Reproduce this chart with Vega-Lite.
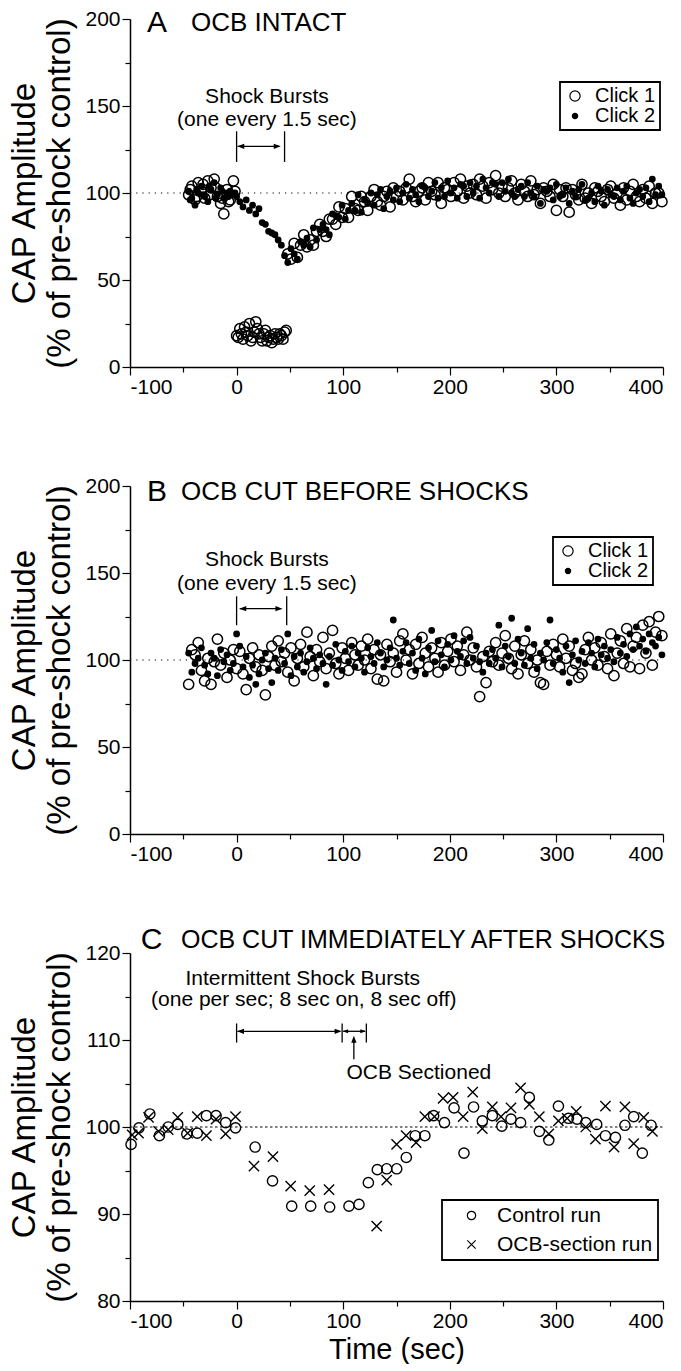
{
"$schema":"https://vega.github.io/schema/vega-lite/v6.json",
"padding":{"left":8,"top":8,"right":0,"bottom":0},
"spacing":119,
"bounds":"flush",
"resolve":{"scale":{"x":"independent","y":"independent","shape":"independent","fill":"independent","stroke":"independent","size":"independent"},"legend":{"shape":"independent","fill":"independent","stroke":"independent","size":"independent"},"axis":{"x":"independent","y":"independent"}},
"config":{"font":"Liberation Sans","view":{"stroke":null},
"axis":{"grid":false,"domainColor":"black","domainWidth":1.5,"tickColor":"black","tickWidth":1.2,"labelColor":"black","labelFontSize":21,"labelFont":"Liberation Sans","titleColor":"black","titleFont":"Liberation Sans","titleFontWeight":"normal"},
"legend":{"labelFont":"Liberation Sans","labelFontSize":20,"labelColor":"black","strokeColor":"black","strokeWidth":1.8,"padding":4,"rowPadding":0,"symbolStrokeWidth":1.2},
"text":{"color":"black","font":"Liberation Sans"}},
"vconcat":[
{"width":533,"height":348,
"encoding":{
"x":{"field":"t","type":"quantitative","scale":{"domain":[-100,400],"nice":false,"zero":false},"axis":{"values":[-100,-50,0,50,100,150,200,250,300,350,400],"labelExpr":"datum.value % 100 === 0 ? '' + datum.value : ''","tickSize":{"condition":{"test":"datum.value % 100 === 0","value":8},"value":5},"labelPadding":1,"title":null}},
"y":{"field":"v","type":"quantitative","scale":{"domain":[0,200],"nice":false,"zero":false},"axis":{"values":[0,25,50,75,100,125,150,175,200],"labelExpr":"datum.value % 50 === 0 ? '' + datum.value : ''","tickSize":{"condition":{"test":"datum.value % 50 === 0","value":8},"value":5},"labelPadding":2,"title":["CAP Amplitude","(% of pre-shock control)"],"titleFontSize":33,"titleLineHeight":35,"titlePadding":8}}},
"layer":[
{"data":{"values":[{"t":-100,"t2":400,"v":100}]},"mark":{"type":"rule","color":"black","strokeDash":[1.2,5],"strokeWidth":1.2},"encoding":{"x2":{"field":"t2"}}},
{"data":{"values":[
{"t":-45,"a":99,"b":101},{"t":-42,"a":104,"b":97},{"t":-39,"a":96,"b":93},{"t":-36,"a":106,"b":100},{"t":-33,"a":101,"b":104},{"t":-30,"a":97,"b":98},{"t":-27,"a":107,"b":95},{"t":-24,"a":103,"b":102},{"t":-21,"a":108,"b":106},{"t":-18,"a":98,"b":99},{"t":-15,"a":94,"b":103},{"t":-12,"a":88,"b":97},{"t":-9,"a":102,"b":100},{"t":-6,"a":96,"b":101},{"t":-3,"a":107,"b":99},
{"t":-43.5,"a":102,"b":96},{"t":-37.5,"a":98,"b":102},{"t":-31.5,"a":105,"b":99},{"t":-25.5,"a":99,"b":104},{"t":-19.5,"a":103,"b":97},{"t":-13.5,"a":97,"b":101},{"t":-7.5,"a":95,"b":98},{"t":-1.5,"a":101,"b":100},
{"t":0,"a":18,"b":98},{"t":1.5,"a":17},{"t":3,"a":22,"b":95},{"t":4.5,"a":19},{"t":6,"a":16,"b":92},{"t":7.5,"a":23},{"t":9,"a":20,"b":96},{"t":10.5,"a":18},{"t":12,"a":25,"b":90},{"t":13.5,"a":15},{"t":15,"a":17,"b":93},{"t":16.5,"a":20},{"t":18,"a":26,"b":88},{"t":19.5,"a":22},{"t":21,"a":19,"b":91},{"t":22.5,"a":17},{"t":24,"a":15,"b":83},{"t":25.5,"a":19},{"t":27,"a":21,"b":82},{"t":28.5,"a":15},{"t":30,"a":17,"b":78},{"t":31.5,"a":18},{"t":33,"a":14,"b":77},{"t":34.5,"a":16},{"t":36,"a":19,"b":76},{"t":37.5,"a":17},{"t":39,"a":16,"b":73},{"t":40.5,"a":19},{"t":42,"a":18,"b":70},{"t":43.5,"a":16},{"t":45,"a":20,"b":64},{"t":46.5,"a":21},
{"t":48,"a":65,"b":60},{"t":51,"a":62,"b":68},{"t":54,"a":71,"b":65},{"t":57,"a":63,"b":62},{"t":60,"a":70,"b":72},{"t":63,"a":76,"b":70},{"t":66,"a":69,"b":74},{"t":69,"a":73,"b":69},{"t":72,"a":70,"b":80},{"t":75,"a":78,"b":73},{"t":78,"a":82,"b":79},{"t":81,"a":78,"b":82},{"t":84,"a":75,"b":79},{"t":87,"a":85,"b":76},{"t":90,"a":85,"b":88},{"t":93,"a":82,"b":87},{"t":96,"a":92,"b":86},{"t":99,"a":86,"b":93},{"t":102,"a":91,"b":85},{"t":105,"a":86,"b":90},{"t":108,"a":98,"b":94},{"t":111,"a":91,"b":90},{"t":114,"a":90,"b":99},{"t":117,"a":98,"b":89},{"t":120,"a":95,"b":96},{"t":123,"a":90,"b":94},{"t":126,"a":98,"b":100},{"t":129,"a":102,"b":93},{"t":132,"a":95,"b":99},{"t":135,"a":93,"b":102},{"t":138,"a":98,"b":91},{"t":141,"a":101,"b":98},{"t":144,"a":92,"b":101},{"t":147,"a":103,"b":96},{"t":150,"a":98,"b":103},{"t":153,"a":101,"b":95},{"t":156,"a":96,"b":100},{"t":159,"a":103,"b":105},{"t":162,"a":108,"b":97},{"t":165,"a":98,"b":102},{"t":168,"a":95,"b":99},{"t":171,"a":101,"b":95},{"t":174,"a":103,"b":104},{"t":177,"a":96,"b":103},{"t":180,"a":106,"b":98},{"t":183,"a":101,"b":101},{"t":186,"a":99,"b":106},{"t":189,"a":106,"b":97},{"t":192,"a":94,"b":103},{"t":195,"a":103,"b":98},{"t":198,"a":102,"b":107},{"t":201,"a":98,"b":100},{"t":204,"a":106,"b":103},{"t":207,"a":101,"b":97},{"t":210,"a":108,"b":105},{"t":213,"a":97,"b":104},{"t":216,"a":104,"b":98},{"t":219,"a":100,"b":106},{"t":222,"a":105,"b":100},{"t":225,"a":99,"b":104},{"t":228,"a":108,"b":97},{"t":231,"a":104,"b":108},{"t":234,"a":97,"b":103},{"t":237,"a":106,"b":100},{"t":240,"a":102,"b":106},{"t":243,"a":110,"b":105},{"t":246,"a":100,"b":98},{"t":249,"a":104,"b":106},{"t":252,"a":98,"b":101},{"t":255,"a":103,"b":108},{"t":258,"a":107,"b":100},{"t":261,"a":100,"b":98},{"t":264,"a":96,"b":102},{"t":267,"a":105,"b":104},{"t":270,"a":101,"b":98},{"t":273,"a":98,"b":106},{"t":276,"a":107,"b":100},{"t":279,"a":99,"b":98},{"t":282,"a":102,"b":104},{"t":285,"a":94,"b":94},{"t":288,"a":103,"b":102},{"t":291,"a":101,"b":101},{"t":294,"a":98,"b":103},{"t":297,"a":105,"b":96},{"t":300,"a":90,"b":105},{"t":303,"a":102,"b":98},{"t":306,"a":98,"b":99},{"t":309,"a":103,"b":103},{"t":312,"a":89,"b":94},{"t":315,"a":102,"b":101},{"t":318,"a":99,"b":98},{"t":321,"a":96,"b":102},{"t":324,"a":105,"b":105},{"t":327,"a":97,"b":96},{"t":330,"a":100,"b":97},{"t":333,"a":94,"b":100},{"t":336,"a":103,"b":95},{"t":339,"a":101,"b":104},{"t":342,"a":98,"b":101},{"t":345,"a":95,"b":93},{"t":348,"a":102,"b":102},{"t":351,"a":104,"b":99},{"t":354,"a":97,"b":98},{"t":357,"a":100,"b":103},{"t":360,"a":93,"b":96},{"t":363,"a":103,"b":101},{"t":366,"a":96,"b":104},{"t":369,"a":101,"b":97},{"t":372,"a":105,"b":94},{"t":375,"a":98,"b":100},{"t":378,"a":95,"b":102},{"t":381,"a":102,"b":98},{"t":384,"a":97,"b":103},{"t":387,"a":104,"b":95},{"t":390,"a":94,"b":108},{"t":393,"a":100,"b":99},{"t":396,"a":100,"b":104},{"t":399,"a":95,"b":99}
]},
"transform":[{"fold":["a","b"],"as":["k","v"]}],
"mark":{"type":"point","filled":true,"opacity":1,"strokeWidth":1.5},
"encoding":{
"shape":{"field":"k","type":"nominal","scale":{"domain":["a","b"],"range":["circle","circle"]},"legend":{"title":null,"orient":"none","legendX":430,"legendY":63,"labelExpr":"datum.value === 'a' ? 'Click 1  ' : 'Click 2  '","symbolOffset":1,"labelOffset":10}},
"fill":{"field":"k","type":"nominal","scale":{"domain":["a","b"],"range":["transparent","black"]},"legend":{"title":null}},
"stroke":{"field":"k","type":"nominal","scale":{"domain":["a","b"],"range":["black","black"]},"legend":{"title":null}},
"size":{"field":"k","type":"ordinal","scale":{"domain":["a","b"],"range":[105,28]},"legend":{"title":null}}}},
{"data":{"values":[{"t":0,"t2":0,"v":117.8,"v2":135.5},{"t":45,"t2":45,"v":117.8,"v2":135.5},{"t":1,"t2":40,"v":126.8,"v2":126.8}]},"mark":{"type":"rule","color":"black","strokeWidth":1.3},"encoding":{"x2":{"field":"t2"},"y2":{"field":"v2"}}},
{"data":{"values":[{"t":0.6,"v":126.8,"a":180},{"t":41.4,"v":126.8,"a":0}]},"mark":{"type":"point","shape":"M0,0L-2,-0.75L-2,0.75Z","filled":true,"color":"black","opacity":1,"size":49,"strokeWidth":0},"encoding":{"angle":{"field":"a","type":"quantitative","scale":null}}},
{"data":{"values":[{"t":-84,"v":197.7,"txt":"A","fs":30},{"t":-42.8,"v":197.7,"txt":"OCB INTACT","fs":26}]},"mark":{"type":"text","align":"left","baseline":"middle","color":"black"},"encoding":{"text":{"field":"txt"},"size":{"field":"fs","type":"quantitative","scale":null}}},
{"data":{"values":[{"t":28.5,"v":155.2,"txt":"Shock Bursts"},{"t":28.5,"v":142.1,"txt":"(one every 1.5 sec)"}]},"mark":{"type":"text","align":"center","baseline":"middle","color":"black","fontSize":21},"encoding":{"text":{"field":"txt"}}}
]},
{"width":533,"height":348,
"encoding":{
"x":{"field":"t","type":"quantitative","scale":{"domain":[-100,400],"nice":false,"zero":false},"axis":{"values":[-100,-50,0,50,100,150,200,250,300,350,400],"labelExpr":"datum.value % 100 === 0 ? '' + datum.value : ''","tickSize":{"condition":{"test":"datum.value % 100 === 0","value":8},"value":5},"labelPadding":1,"title":null}},
"y":{"field":"v","type":"quantitative","scale":{"domain":[0,200],"nice":false,"zero":false},"axis":{"values":[0,25,50,75,100,125,150,175,200],"labelExpr":"datum.value % 50 === 0 ? '' + datum.value : ''","tickSize":{"condition":{"test":"datum.value % 50 === 0","value":8},"value":5},"labelPadding":2,"title":["CAP Amplitude","(% of pre-shock control)"],"titleFontSize":33,"titleLineHeight":35,"titlePadding":8}}},
"layer":[
{"data":{"values":[{"t":-100,"t2":400,"v":100}]},"mark":{"type":"rule","color":"black","strokeDash":[1.2,5],"strokeWidth":1.2},"encoding":{"x2":{"field":"t2"}}},
{"data":{"values":[
{"t":-45,"a":86,"b":104},{"t":-42,"a":106,"b":93},{"t":-39,"a":103,"b":98},{"t":-36,"a":110,"b":101},{"t":-33,"a":94,"b":107},{"t":-30,"a":88,"b":97},{"t":-27,"a":101,"b":92},{"t":-24,"a":86,"b":104},{"t":-21,"a":99,"b":101},{"t":-18,"a":112,"b":91},{"t":-15,"a":97,"b":106},{"t":-12,"a":104,"b":99},{"t":-9,"a":90,"b":103},{"t":-6,"a":100,"b":94},{"t":-3,"a":106,"b":98},{"t":0,"a":95,"b":115},{"t":3,"a":105,"b":108},{"t":6,"a":92,"b":96},{"t":9,"a":83,"b":102},{"t":12,"a":101,"b":90},{"t":15,"a":107,"b":97},{"t":18,"a":96,"b":86},{"t":21,"a":103,"b":92},{"t":24,"a":94,"b":100},{"t":27,"a":80,"b":104},{"t":30,"a":102,"b":95},{"t":33,"a":108,"b":87},{"t":36,"a":97,"b":101},{"t":39,"a":111,"b":94},{"t":42,"a":99,"b":106},{"t":45,"a":104,"b":98},{"t":48,"a":93,"b":115},{"t":51,"a":107,"b":91},{"t":54,"a":88,"b":102},{"t":57,"a":101,"b":96},{"t":60,"a":109,"b":104},{"t":63,"a":96,"b":93},{"t":66,"a":116,"b":99},{"t":69,"a":102,"b":107},{"t":72,"a":91,"b":101},{"t":75,"a":106,"b":95},{"t":78,"a":99,"b":103},{"t":81,"a":113,"b":98},{"t":84,"a":95,"b":86},{"t":87,"a":104,"b":102},{"t":90,"a":117,"b":97},{"t":93,"a":98,"b":109},{"t":96,"a":92,"b":100},{"t":99,"a":107,"b":94},{"t":102,"a":101,"b":105},{"t":105,"a":94,"b":99},{"t":108,"a":110,"b":108},{"t":111,"a":103,"b":96},{"t":114,"a":97,"b":104},{"t":117,"a":108,"b":101},{"t":120,"a":100,"b":93},{"t":123,"a":112,"b":107},{"t":126,"a":95,"b":102},{"t":129,"a":106,"b":98},{"t":132,"a":89,"b":110},{"t":135,"a":103,"b":104},{"t":138,"a":88,"b":96},{"t":141,"a":109,"b":100},{"t":144,"a":99,"b":107},{"t":147,"a":104,"b":123},{"t":150,"a":93,"b":101},{"t":153,"a":111,"b":97},{"t":156,"a":115,"b":105},{"t":159,"a":100,"b":110},{"t":162,"a":106,"b":98},{"t":165,"a":92,"b":104},{"t":168,"a":109,"b":94},{"t":171,"a":98,"b":112},{"t":174,"a":113,"b":101},{"t":177,"a":104,"b":92},{"t":180,"a":96,"b":107},{"t":183,"a":107,"b":117},{"t":186,"a":101,"b":99},{"t":189,"a":93,"b":111},{"t":192,"a":110,"b":103},{"t":195,"a":97,"b":96},{"t":198,"a":105,"b":109},{"t":201,"a":112,"b":100},{"t":204,"a":99,"b":114},{"t":207,"a":108,"b":105},{"t":210,"a":94,"b":102},{"t":213,"a":103,"b":111},{"t":216,"a":116,"b":98},{"t":219,"a":100,"b":113},{"t":222,"a":107,"b":101},{"t":225,"a":96,"b":108},{"t":228,"a":79,"b":99},{"t":231,"a":102,"b":93},{"t":234,"a":87,"b":104},{"t":237,"a":105,"b":98},{"t":240,"a":99,"b":106},{"t":243,"a":110,"b":101},{"t":246,"a":97,"b":120},{"t":249,"a":104,"b":96},{"t":252,"a":114,"b":108},{"t":255,"a":101,"b":102},{"t":258,"a":95,"b":124},{"t":261,"a":108,"b":98},{"t":264,"a":92,"b":112},{"t":267,"a":103,"b":104},{"t":270,"a":111,"b":97},{"t":273,"a":98,"b":118},{"t":276,"a":106,"b":101},{"t":279,"a":93,"b":109},{"t":282,"a":100,"b":95},{"t":285,"a":87,"b":104},{"t":288,"a":86,"b":100},{"t":291,"a":105,"b":110},{"t":294,"a":97,"b":123},{"t":297,"a":109,"b":98},{"t":300,"a":103,"b":106},{"t":303,"a":96,"b":101},{"t":306,"a":112,"b":93},{"t":309,"a":101,"b":108},{"t":312,"a":108,"b":87},{"t":315,"a":94,"b":103},{"t":318,"a":98,"b":111},{"t":321,"a":90,"b":100},{"t":324,"a":92,"b":105},{"t":327,"a":106,"b":98},{"t":330,"a":113,"b":110},{"t":333,"a":100,"b":104},{"t":336,"a":107,"b":96},{"t":339,"a":97,"b":112},{"t":342,"a":110,"b":103},{"t":345,"a":102,"b":108},{"t":348,"a":95,"b":101},{"t":351,"a":115,"b":106},{"t":354,"a":91,"b":99},{"t":357,"a":104,"b":113},{"t":360,"a":111,"b":104},{"t":363,"a":98,"b":109},{"t":366,"a":118,"b":102},{"t":369,"a":96,"b":115},{"t":372,"a":108,"b":106},{"t":375,"a":113,"b":119},{"t":378,"a":95,"b":108},{"t":381,"a":120,"b":112},{"t":384,"a":104,"b":105},{"t":387,"a":122,"b":115},{"t":390,"a":97,"b":110},{"t":393,"a":116,"b":108},{"t":396,"a":125,"b":113},{"t":399,"a":114,"b":103}
]},
"transform":[{"fold":["a","b"],"as":["k","v"]}],
"mark":{"type":"point","filled":true,"opacity":1,"strokeWidth":1.5},
"encoding":{
"shape":{"field":"k","type":"nominal","scale":{"domain":["a","b"],"range":["circle","circle"]},"legend":{"title":null,"orient":"none","legendX":423,"legendY":51,"labelExpr":"datum.value === 'a' ? 'Click 1  ' : 'Click 2  '","symbolOffset":1,"labelOffset":10}},
"fill":{"field":"k","type":"nominal","scale":{"domain":["a","b"],"range":["transparent","black"]},"legend":{"title":null}},
"stroke":{"field":"k","type":"nominal","scale":{"domain":["a","b"],"range":["black","black"]},"legend":{"title":null}},
"size":{"field":"k","type":"ordinal","scale":{"domain":["a","b"],"range":[105,28]},"legend":{"title":null}}}},
{"data":{"values":[{"t":0,"t2":0,"v":120,"v2":136.6},{"t":47,"t2":47,"v":120,"v2":136.6},{"t":3,"t2":42,"v":129.5,"v2":129.5}]},"mark":{"type":"rule","color":"black","strokeWidth":1.3},"encoding":{"x2":{"field":"t2"},"y2":{"field":"v2"}}},
{"data":{"values":[{"t":2.5,"v":129.5,"a":180},{"t":43,"v":129.5,"a":0}]},"mark":{"type":"point","shape":"M0,0L-2,-0.75L-2,0.75Z","filled":true,"color":"black","opacity":1,"size":49,"strokeWidth":0},"encoding":{"angle":{"field":"a","type":"quantitative","scale":null}}},
{"data":{"values":[{"t":-84,"v":196.6,"txt":"B","fs":30},{"t":-52.2,"v":196.6,"txt":"OCB CUT BEFORE SHOCKS","fs":26}]},"mark":{"type":"text","align":"left","baseline":"middle","color":"black"},"encoding":{"text":{"field":"txt"},"size":{"field":"fs","type":"quantitative","scale":null}}},
{"data":{"values":[{"t":28.5,"v":157.5,"txt":"Shock Bursts"},{"t":28.5,"v":143.9,"txt":"(one every 1.5 sec)"}]},"mark":{"type":"text","align":"center","baseline":"middle","color":"black","fontSize":21},"encoding":{"text":{"field":"txt"}}}
]},
{"width":533,"height":348,
"encoding":{
"x":{"field":"t","type":"quantitative","scale":{"domain":[-100,400],"nice":false,"zero":false},"axis":{"values":[-100,-50,0,50,100,150,200,250,300,350,400],"labelExpr":"datum.value % 100 === 0 ? '' + datum.value : ''","tickSize":{"condition":{"test":"datum.value % 100 === 0","value":8},"value":5},"labelPadding":1,"title":"Time (sec)","titleFontSize":29,"titlePadding":4}},
"y":{"field":"v","type":"quantitative","scale":{"domain":[80,120],"nice":false,"zero":false},"axis":{"values":[80,85,90,95,100,105,110,115,120],"labelExpr":"datum.value % 10 === 0 ? '' + datum.value : ''","tickSize":{"condition":{"test":"datum.value % 10 === 0","value":8},"value":5},"labelPadding":2,"title":["CAP Amplitude","(% of pre-shock control)"],"titleFontSize":33,"titleLineHeight":35,"titlePadding":8}}},
"layer":[
{"data":{"values":[{"t":-100,"t2":400,"v":100}]},"mark":{"type":"rule","color":"black","strokeDash":[2.5,2.5],"strokeWidth":1}, "encoding":{"x2":{"field":"t2"}}},
{"data":{"values":[
{"t":-99,"v":98.0,"k":"c"},{"t":-91.6,"v":99.9,"k":"c"},{"t":-81.4,"v":101.5,"k":"c"},{"t":-72.4,"v":99.0,"k":"c"},{"t":-64.2,"v":100.0,"k":"c"},{"t":-55.2,"v":100.3,"k":"c"},{"t":-46.7,"v":99.2,"k":"c"},{"t":-36.9,"v":99.3,"k":"c"},{"t":-28.3,"v":101.3,"k":"c"},{"t":-19.3,"v":101.3,"k":"c"},{"t":-10.3,"v":100.5,"k":"c"},{"t":-1,"v":99.9,"k":"c"},{"t":17.4,"v":97.7,"k":"c"},{"t":33.7,"v":93.8,"k":"c"},{"t":51.7,"v":90.9,"k":"c"},{"t":69.5,"v":90.9,"k":"c"},{"t":87.3,"v":90.8,"k":"c"},{"t":105.4,"v":90.9,"k":"c"},{"t":114.8,"v":91.1,"k":"c"},{"t":123.6,"v":93.6,"k":"c"},{"t":132,"v":95.1,"k":"c"},{"t":140.8,"v":95.2,"k":"c"},{"t":150.2,"v":95.2,"k":"c"},{"t":159.2,"v":96.5,"k":"c"},{"t":167.6,"v":99.0,"k":"c"},{"t":176.6,"v":99.0,"k":"c"},{"t":184.8,"v":101.3,"k":"c"},{"t":195,"v":100.5,"k":"c"},{"t":204,"v":102.2,"k":"c"},{"t":213.3,"v":97.0,"k":"c"},{"t":222.3,"v":102.3,"k":"c"},{"t":230.5,"v":100.7,"k":"c"},{"t":239.9,"v":101.3,"k":"c"},{"t":248.8,"v":100.1,"k":"c"},{"t":257.4,"v":100.9,"k":"c"},{"t":266.4,"v":100.5,"k":"c"},{"t":274.6,"v":103.4,"k":"c"},{"t":284,"v":99.5,"k":"c"},{"t":292.9,"v":98.5,"k":"c"},{"t":301.9,"v":102.4,"k":"c"},{"t":311.3,"v":101.0,"k":"c"},{"t":319.4,"v":100.9,"k":"c"},{"t":327.6,"v":100.5,"k":"c"},{"t":337.8,"v":100.3,"k":"c"},{"t":346,"v":99.0,"k":"c"},{"t":355.4,"v":98.8,"k":"c"},{"t":364.3,"v":100.2,"k":"c"},{"t":372.5,"v":101.2,"k":"c"},{"t":380.6,"v":97.0,"k":"c"},{"t":388.8,"v":100.2,"k":"c"},
{"t":-98,"v":99.1,"k":"o"},{"t":-92,"v":99.3,"k":"o"},{"t":-82.6,"v":101.1,"k":"o"},{"t":-73.2,"v":99.5,"k":"o"},{"t":-64.2,"v":99.7,"k":"o"},{"t":-55.2,"v":101.1,"k":"o"},{"t":-45.9,"v":99.3,"k":"o"},{"t":-36.9,"v":101.2,"k":"o"},{"t":-28.3,"v":99.0,"k":"o"},{"t":-19.3,"v":100.9,"k":"o"},{"t":-10.3,"v":99.2,"k":"o"},{"t":-1,"v":101.2,"k":"o"},{"t":16.3,"v":95.5,"k":"o"},{"t":34.1,"v":96.6,"k":"o"},{"t":50.7,"v":93.2,"k":"o"},{"t":68.6,"v":92.7,"k":"o"},{"t":86.7,"v":92.8,"k":"o"},{"t":131.4,"v":88.6,"k":"o"},{"t":140.8,"v":93.9,"k":"o"},{"t":150.1,"v":98.0,"k":"o"},{"t":159,"v":99.0,"k":"o"},{"t":168.4,"v":98.2,"k":"o"},{"t":176.6,"v":101.2,"k":"o"},{"t":185.6,"v":101.2,"k":"o"},{"t":193.7,"v":103.3,"k":"o"},{"t":203.1,"v":103.4,"k":"o"},{"t":212.5,"v":101.2,"k":"o"},{"t":221.5,"v":104.0,"k":"o"},{"t":230.5,"v":99.8,"k":"o"},{"t":239.9,"v":102.3,"k":"o"},{"t":248,"v":101.2,"k":"o"},{"t":257.4,"v":102.2,"k":"o"},{"t":266.4,"v":104.5,"k":"o"},{"t":274.6,"v":102.6,"k":"o"},{"t":284,"v":101.2,"k":"o"},{"t":292.9,"v":99.2,"k":"o"},{"t":301.9,"v":100.7,"k":"o"},{"t":310.1,"v":101.0,"k":"o"},{"t":318.6,"v":101.8,"k":"o"},{"t":327.6,"v":100.0,"k":"o"},{"t":336.6,"v":98.6,"k":"o"},{"t":346,"v":102.4,"k":"o"},{"t":354.1,"v":97.7,"k":"o"},{"t":364.3,"v":102.3,"k":"o"},{"t":372.5,"v":98.1,"k":"o"},{"t":381.9,"v":101.1,"k":"o"},{"t":390.1,"v":99.5,"k":"o"}
]},
"mark":{"type":"point","filled":false,"opacity":1,"strokeWidth":1.4,"color":"black","size":105},
"encoding":{
"shape":{"field":"k","type":"nominal","scale":{"domain":["c","o"],"range":["circle","M-1,-1L1,1M-1,1L1,-1"]},"legend":{"title":null,"orient":"none","legendX":312,"legendY":247,"labelExpr":"datum.value === 'c' ? 'Control run' : 'OCB-section run'","labelFontSize":21,"padding":5,"rowPadding":7,"symbolOffset":14,"labelOffset":15,"symbolSize":70,"symbolStrokeColor":"black","symbolFillColor":"transparent"}}}},
{"data":{"values":[{"t":0,"t2":0,"v":109.7,"v2":111.9},{"t":99,"t2":99,"v":109.7,"v2":111.9},{"t":121.7,"t2":121.7,"v":109.7,"v2":111.9},{"t":1,"t2":97,"v":111,"v2":111},{"t":100,"t2":120.5,"v":111,"v2":111},{"t":110,"t2":110,"v":107.8,"v2":110.2}]},"mark":{"type":"rule","color":"black","strokeWidth":1.3},"encoding":{"x2":{"field":"t2"},"y2":{"field":"v2"}}},
{"data":{"values":[{"t":0.4,"v":111,"a":180},{"t":98.5,"v":111,"a":0},{"t":110,"v":110.5,"a":270}]},"mark":{"type":"point","shape":"M0,0L-2,-0.75L-2,0.75Z","filled":true,"color":"black","opacity":1,"size":49,"strokeWidth":0},"encoding":{"angle":{"field":"a","type":"quantitative","scale":null}}},
{"data":{"values":[{"t":99.5,"v":111,"a":180},{"t":121.2,"v":111,"a":0}]},"mark":{"type":"point","shape":"M0,0L-2,-0.75L-2,0.75Z","filled":true,"color":"black","opacity":1,"size":30,"strokeWidth":0},"encoding":{"angle":{"field":"a","type":"quantitative","scale":null}}},
{"data":{"values":[{"t":-90,"v":121.5,"txt":"C","fs":30},{"t":-52.2,"v":121.5,"txt":"OCB CUT IMMEDIATELY AFTER SHOCKS","fs":25}]},"mark":{"type":"text","align":"left","baseline":"middle","color":"black"},"encoding":{"text":{"field":"txt"},"size":{"field":"fs","type":"quantitative","scale":null}}},
{"data":{"values":[{"t":62,"v":117,"txt":"Intermittent Shock Bursts"},{"t":63,"v":114.6,"txt":"(one per sec; 8 sec on, 8 sec off)"},{"t":171,"v":106.2,"txt":"OCB Sectioned"}]},"mark":{"type":"text","align":"center","baseline":"middle","color":"black","fontSize":21},"encoding":{"text":{"field":"txt"}}}
]}
]
}
